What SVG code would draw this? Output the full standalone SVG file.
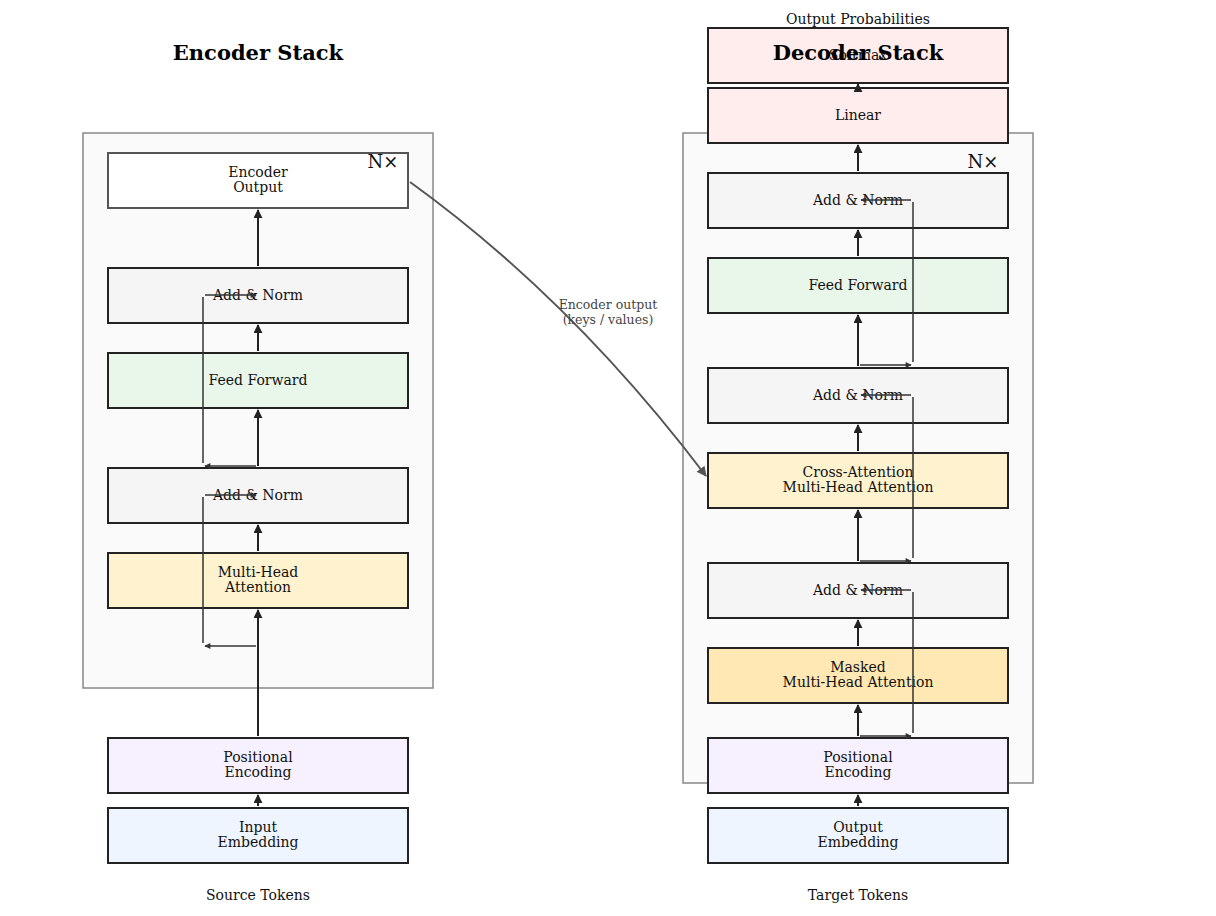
<svg xmlns="http://www.w3.org/2000/svg" width="1216" height="916" viewBox="0 0 1216 916">
<defs>
<marker id="ah" viewBox="0 0 10 10" refX="9" refY="5" markerWidth="9" markerHeight="9" markerUnits="userSpaceOnUse" orient="auto"><path d="M0,0 L10,5 L0,10 z" fill="#222"/></marker>
<marker id="ahs" viewBox="0 0 10 10" refX="9" refY="5" markerWidth="7" markerHeight="6" markerUnits="userSpaceOnUse" orient="auto"><path d="M0,0 L10,5 L0,10 z" fill="#333"/></marker>
<marker id="ahg" viewBox="0 0 10 10" refX="9" refY="5" markerWidth="11" markerHeight="10" markerUnits="userSpaceOnUse" orient="auto"><path d="M0,0 L10,5 L0,10 z" fill="#555"/></marker>
</defs>
<style>
text{font-family:"DejaVu Serif","Liberation Serif",serif;fill:#111;text-anchor:middle}
.lbl{font-size:14px}
.title{font-size:21px;font-weight:bold;fill:#000}
.nx{font-size:18px;fill:#111}
.cap{font-size:14px}
.box{stroke:#222;stroke-width:2}
.cont{fill:#fafafa;stroke:#888;stroke-width:1.5}
.an{fill:#f5f5f5}
.ff{fill:#e9f6ea}
.mha{fill:#fff2cf}
.mmha{fill:#ffe8b3}
.pe{fill:#f7f1ff}
.emb{fill:#eef5ff}
.out{fill:#ffecec}
.main{stroke:#222;stroke-width:2;fill:none;marker-end:url(#ah)}
.res{stroke:#333;stroke-width:1.5;fill:none}
.resa{stroke:#333;stroke-width:1.5;fill:none;marker-end:url(#ahs)}
</style>
<rect width="1216" height="916" fill="#fff"/>
<g id="containers">
<rect class="cont" x="83" y="133" width="350" height="555"/>
<rect class="cont" x="683" y="133" width="350" height="650"/>
</g>
<g id="enc-output"><rect x="108" y="153" width="300" height="55" fill="#fff" stroke="#555" stroke-width="2"/><text class="lbl" x="258" y="177">Encoder</text><text class="lbl" x="258" y="192">Output</text></g>
<g id="enc-addnorm2"><rect class="box an" x="108" y="268" width="300" height="55"/><text class="lbl" x="258" y="300">Add &amp; Norm</text></g>
<g id="enc-ff"><rect class="box ff" x="108" y="353" width="300" height="55"/><text class="lbl" x="258" y="385">Feed Forward</text></g>
<g id="enc-addnorm1"><rect class="box an" x="108" y="468" width="300" height="55"/><text class="lbl" x="258" y="500">Add &amp; Norm</text></g>
<g id="enc-mha"><rect class="box mha" x="108" y="553" width="300" height="55"/><text class="lbl" x="258" y="577">Multi-Head</text><text class="lbl" x="258" y="592">Attention</text></g>
<g id="enc-pe"><rect class="box pe" x="108" y="738" width="300" height="55"/><text class="lbl" x="258" y="762">Positional</text><text class="lbl" x="258" y="777">Encoding</text></g>
<g id="enc-emb"><rect class="box emb" x="108" y="808" width="300" height="55"/><text class="lbl" x="258" y="832">Input</text><text class="lbl" x="258" y="847">Embedding</text></g>
<g id="dec-softmax"><rect class="box out" x="708" y="28" width="300" height="55"/><text class="lbl" x="858" y="60">Softmax</text></g>
<g id="dec-linear"><rect class="box out" x="708" y="88" width="300" height="55"/><text class="lbl" x="858" y="120">Linear</text></g>
<g id="dec-addnorm3"><rect class="box an" x="708" y="173" width="300" height="55"/><text class="lbl" x="858" y="205">Add &amp; Norm</text></g>
<g id="dec-ff"><rect class="box ff" x="708" y="258" width="300" height="55"/><text class="lbl" x="858" y="290">Feed Forward</text></g>
<g id="dec-addnorm2"><rect class="box an" x="708" y="368" width="300" height="55"/><text class="lbl" x="858" y="400">Add &amp; Norm</text></g>
<g id="dec-cross"><rect class="box mha" x="708" y="453" width="300" height="55"/><text class="lbl" x="858" y="477">Cross-Attention</text><text class="lbl" x="858" y="492">Multi-Head Attention</text></g>
<g id="dec-addnorm1"><rect class="box an" x="708" y="563" width="300" height="55"/><text class="lbl" x="858" y="595">Add &amp; Norm</text></g>
<g id="dec-masked"><rect class="box mmha" x="708" y="648" width="300" height="55"/><text class="lbl" x="858" y="672">Masked</text><text class="lbl" x="858" y="687">Multi-Head Attention</text></g>
<g id="dec-pe"><rect class="box pe" x="708" y="738" width="300" height="55"/><text class="lbl" x="858" y="762">Positional</text><text class="lbl" x="858" y="777">Encoding</text></g>
<g id="dec-emb"><rect class="box emb" x="708" y="808" width="300" height="55"/><text class="lbl" x="858" y="832">Output</text><text class="lbl" x="858" y="847">Embedding</text></g>
<g id="connectors">
<line class="main" x1="258" y1="806" x2="258" y2="795"/>
<line class="main" x1="258" y1="736" x2="258" y2="610"/>
<line class="main" x1="258" y1="551" x2="258" y2="525"/>
<line class="main" x1="258" y1="466" x2="258" y2="410"/>
<line class="main" x1="258" y1="351" x2="258" y2="325"/>
<line class="main" x1="258" y1="266" x2="258" y2="210"/>
<line class="resa" x1="256" y1="646" x2="205" y2="646"/>
<line class="res" x1="203" y1="643" x2="203" y2="497"/>
<line class="resa" x1="205" y1="495" x2="256" y2="495"/>
<line class="resa" x1="256" y1="466" x2="205" y2="466"/>
<line class="res" x1="203" y1="463" x2="203" y2="297"/>
<line class="resa" x1="205" y1="295" x2="256" y2="295"/>
<line class="main" x1="858" y1="806" x2="858" y2="795"/>
<line class="main" x1="858" y1="736" x2="858" y2="705"/>
<line class="main" x1="858" y1="646" x2="858" y2="620"/>
<line class="main" x1="858" y1="561" x2="858" y2="510"/>
<line class="main" x1="858" y1="451" x2="858" y2="425"/>
<line class="main" x1="858" y1="366" x2="858" y2="315"/>
<line class="main" x1="858" y1="256" x2="858" y2="230"/>
<line class="main" x1="858" y1="171" x2="858" y2="145"/>
<line class="main" x1="858" y1="92" x2="858" y2="84"/>
<line class="resa" x1="860" y1="736" x2="911" y2="736"/>
<line class="res" x1="913" y1="733" x2="913" y2="592"/>
<line class="resa" x1="911" y1="590" x2="861" y2="590"/>
<line class="resa" x1="860" y1="561" x2="911" y2="561"/>
<line class="res" x1="913" y1="558" x2="913" y2="397"/>
<line class="resa" x1="911" y1="395" x2="861" y2="395"/>
<line class="resa" x1="860" y1="365" x2="911" y2="365"/>
<line class="res" x1="913" y1="362" x2="913" y2="202"/>
<line class="resa" x1="911" y1="200" x2="861" y2="200"/>
<path d="M410,182 Q572,299 706,476" stroke="#555" stroke-width="2" fill="none" marker-end="url(#ahg)"/>
<text x="608" y="309" style="font-size:12.5px;fill:#444">Encoder output</text>
<text x="608" y="324" style="font-size:12.5px;fill:#444">(keys / values)</text>
</g>
<g id="labels">
<text class="nx" x="383" y="168">N×</text>
<text class="nx" x="983" y="168">N×</text>
<text class="cap" x="258" y="900">Source Tokens</text>
<text class="cap" x="858" y="900">Target Tokens</text>
<text class="cap" x="858" y="24">Output Probabilities</text>
<text class="title" x="258" y="60">Encoder Stack</text>
<text class="title" x="858" y="60">Decoder Stack</text>
</g>
</svg>
